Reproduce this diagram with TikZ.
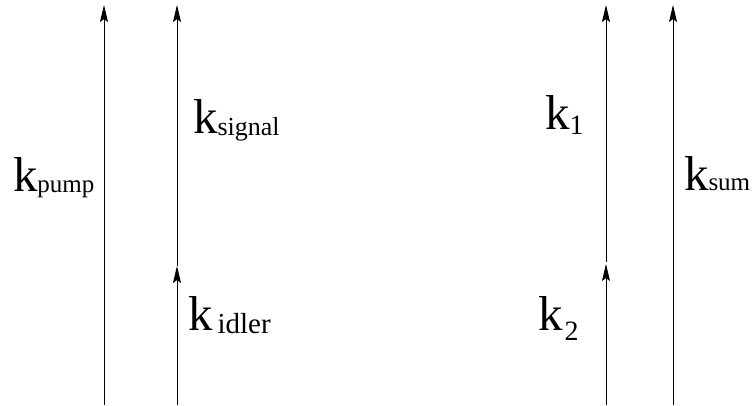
\documentclass[tikz,border=0pt]{standalone}
\usepackage{fontspec}
\setmainfont{Liberation Serif}
\usetikzlibrary{arrows.meta}
\newcommand{\bigk}{{\fontsize{49}{49}\selectfont k}}
\newcommand{\subtxt}[2]{{\fontsize{#1}{#1}\selectfont #2}}
\tikzset{
  vec/.style={draw=black, line width=0.8pt, -{Stealth[length=17pt,width=8pt,inset=3pt]}},
  lbl/.style={anchor=base west, inner sep=0pt, outer sep=0pt},
}
\begin{document}
\begin{tikzpicture}[x=1pt,y=-1pt]
\useasboundingbox (0,0) rectangle (753,405);
% endpoints
\coordinate (pb) at (104,405);
\coordinate (pt) at (104,5);
\coordinate (sb) at (177,405);
\coordinate (sm) at (177,266);
\coordinate (st) at (177,5);
\coordinate (ab) at (606,405);
\coordinate (am) at (606,264);
\coordinate (am2) at (606,262);
\coordinate (at) at (606,5);
\coordinate (qb) at (673,405);
\coordinate (qt) at (673,5);
% arrows
\draw[vec] (pb) -- (pt);
\draw[vec] (sb) -- (sm);
\draw[vec] (sm) -- (st);
\draw[vec] (ab) -- (am);
\draw[vec] (am2) -- (at);
\draw[vec] (qb) -- (qt);
% labels
\node[lbl] (kpump) at (13,191) {\bigk\raisebox{-1pt}{\subtxt{25}{pump}}};
\node[lbl] (ksignal) at (193,133) {\bigk\raisebox{-2pt}{\subtxt{26}{signal}}};
\node[lbl] (kidler) at (188,330) {\bigk\hspace{5pt}\raisebox{-3pt}{\subtxt{29}{idler}}};
\node[lbl] (kone) at (545,129) {\bigk\raisebox{-5pt}{\subtxt{28}{1}}};
\node[lbl] (ktwo) at (538,330) {\bigk\hspace{2pt}\raisebox{-10pt}{\subtxt{28}{2}}};
\node[lbl] (ksum) at (684,190) {\bigk\subtxt{25}{sum}};
\end{tikzpicture}
\end{document}
